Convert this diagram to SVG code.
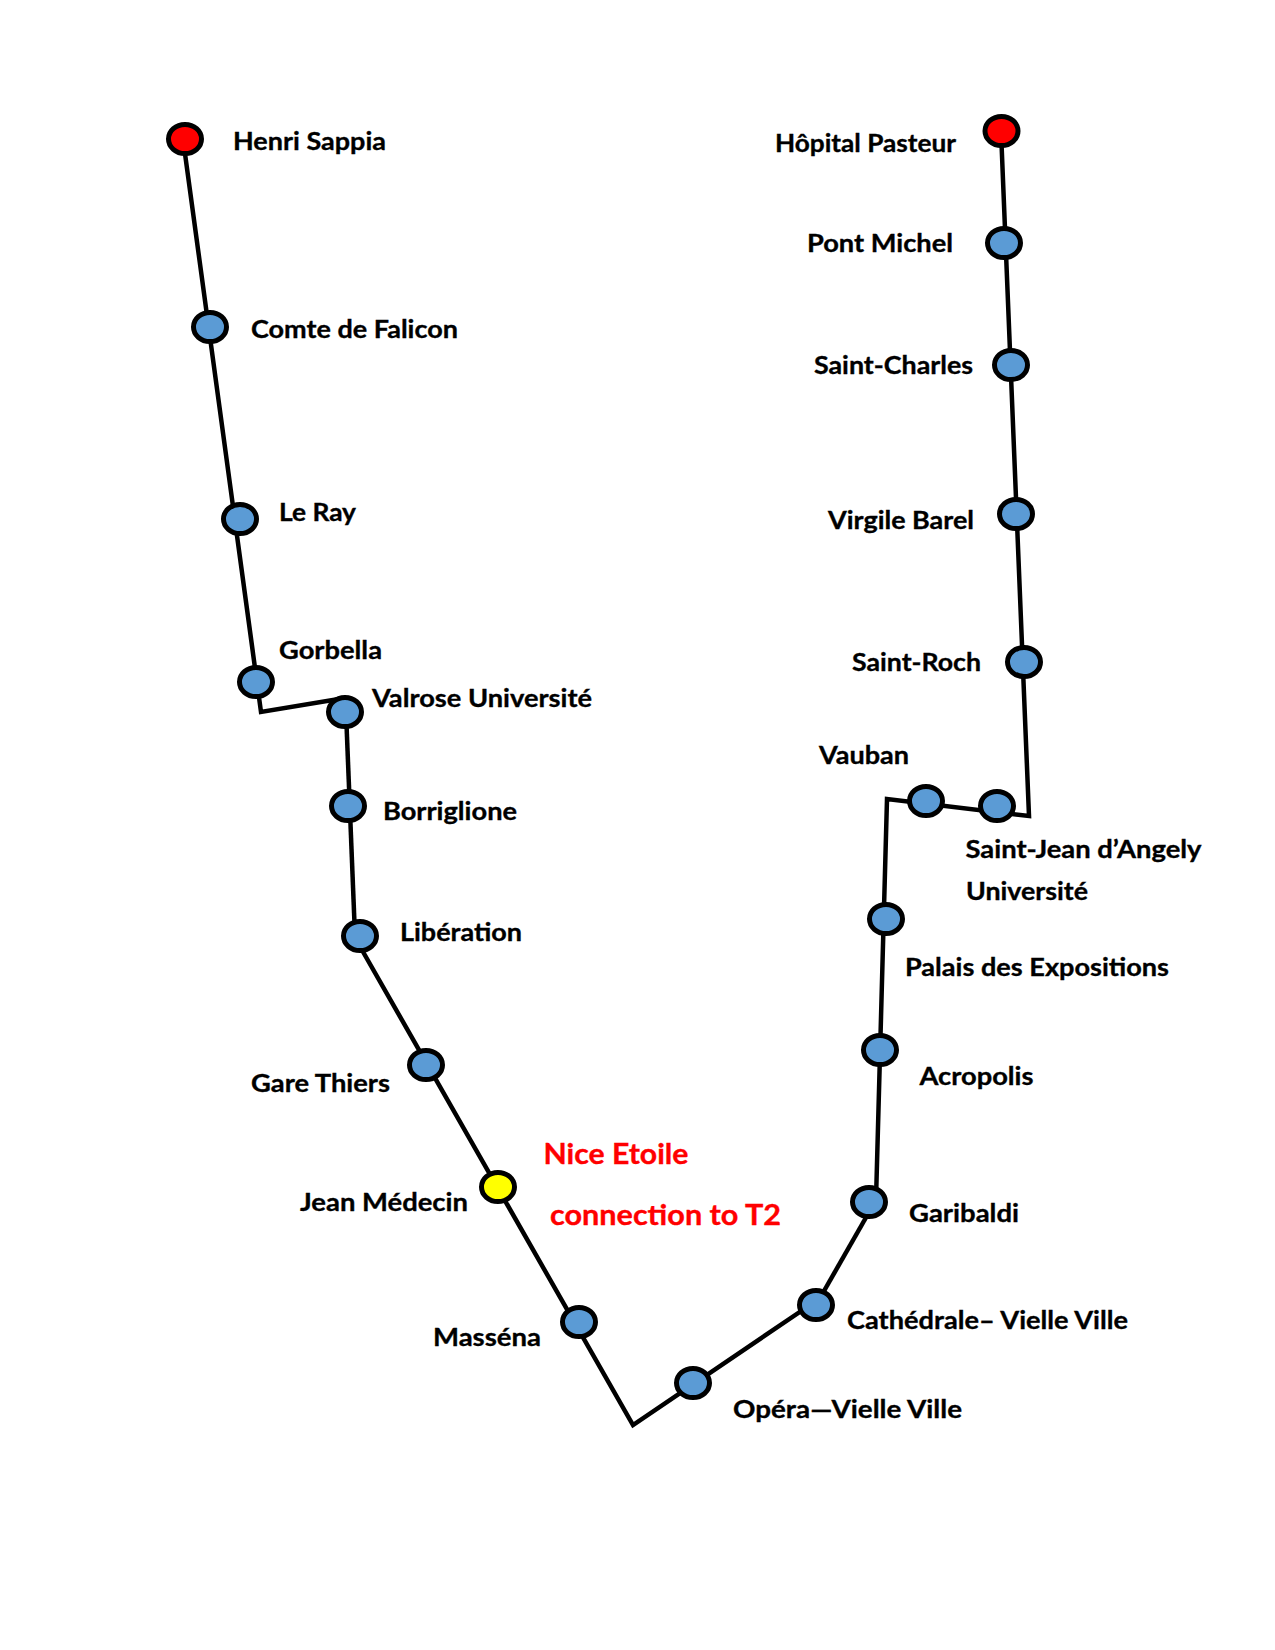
<svg xmlns="http://www.w3.org/2000/svg" width="1275" height="1650" viewBox="0 0 1275 1650">
<style>
.l{fill:none;stroke:#000;stroke-width:4.5;stroke-linejoin:miter}
.s{stroke:#000;stroke-width:5;fill:#5B9BD5}
.e{fill:#f00}
.c{fill:#ff0}
text{font-family:"Lato","Liberation Sans",sans-serif;font-weight:700;font-size:25px;fill:#000;stroke:#000;stroke-width:.35px}
text.r{font-size:28px;fill:#f00;stroke:#f00}
</style>
<rect width="1275" height="1650" fill="#fff"/>
<g id="connectors">
<polyline class="l" points="183,139 261,712 345,698"/>
<polyline class="l" points="346,712 355,936"/>
<polyline class="l" points="354,936 633,1425 816,1301"/>
<polyline class="l" points="816,1305 872,1207"/>
<polyline class="l" points="876,1200 887,799 1029,816 1001,131"/>
</g>
<g id="n1"><ellipse class="s e" cx="185" cy="139" rx="16.5" ry="14.5"/><text x="233" y="150" textLength="153" lengthAdjust="spacingAndGlyphs">Henri Sappia</text></g>
<g id="n2"><ellipse class="s" cx="210" cy="327" rx="16.5" ry="14.5"/><text x="251" y="338" textLength="207" lengthAdjust="spacingAndGlyphs">Comte de Falicon</text></g>
<g id="n3"><ellipse class="s" cx="240" cy="519" rx="16.5" ry="14.5"/><text x="279" y="521" textLength="77" lengthAdjust="spacingAndGlyphs">Le Ray</text></g>
<g id="n4"><ellipse class="s" cx="256" cy="682" rx="16.5" ry="14.5"/><text x="279" y="659" textLength="103" lengthAdjust="spacingAndGlyphs">Gorbella</text></g>
<g id="n5"><ellipse class="s" cx="345" cy="712" rx="16.5" ry="14.5"/><text x="372" y="707" textLength="220" lengthAdjust="spacingAndGlyphs">Valrose Université</text></g>
<g id="n6"><ellipse class="s" cx="348" cy="806" rx="16.5" ry="14.5"/><text x="383" y="820" textLength="134" lengthAdjust="spacingAndGlyphs">Borriglione</text></g>
<g id="n7"><ellipse class="s" cx="360" cy="936" rx="16.5" ry="14.5"/><text x="400" y="941" textLength="122" lengthAdjust="spacingAndGlyphs">Libération</text></g>
<g id="n8"><ellipse class="s" cx="426" cy="1065" rx="16.5" ry="14.5"/><text x="251" y="1092" textLength="139" lengthAdjust="spacingAndGlyphs">Gare Thiers</text></g>
<g id="n9"><ellipse class="s c" cx="498" cy="1187" rx="16.5" ry="14.5"/><text x="300" y="1211" textLength="168" lengthAdjust="spacingAndGlyphs">Jean Médecin</text><text class="r" x="543.5" y="1164" textLength="145" lengthAdjust="spacingAndGlyphs">Nice Etoile</text><text class="r" x="550" y="1225" textLength="231" lengthAdjust="spacingAndGlyphs">connection to T2</text></g>
<g id="n10"><ellipse class="s" cx="579" cy="1322" rx="16.5" ry="14.5"/><text x="433" y="1346" textLength="108" lengthAdjust="spacingAndGlyphs">Masséna</text></g>
<g id="n11"><ellipse class="s" cx="693" cy="1383" rx="16.5" ry="14.5"/><text x="733" y="1418" textLength="229" lengthAdjust="spacingAndGlyphs">Opéra—Vielle Ville</text></g>
<g id="n12"><ellipse class="s" cx="816" cy="1305" rx="16.5" ry="14.5"/><text x="847" y="1329" textLength="281" lengthAdjust="spacingAndGlyphs">Cathédrale– Vielle Ville</text></g>
<g id="n13"><ellipse class="s" cx="869" cy="1202" rx="16.5" ry="14.5"/><text x="909" y="1222" textLength="110" lengthAdjust="spacingAndGlyphs">Garibaldi</text></g>
<g id="n14"><ellipse class="s" cx="880" cy="1050" rx="16.5" ry="14.5"/><text x="919.5" y="1085" textLength="114" lengthAdjust="spacingAndGlyphs">Acropolis</text></g>
<g id="n15"><ellipse class="s" cx="886" cy="919" rx="16.5" ry="14.5"/><text x="905" y="976" textLength="264" lengthAdjust="spacingAndGlyphs">Palais des Expositions</text></g>
<g id="n16"><ellipse class="s" cx="926" cy="801" rx="16.5" ry="14.5"/><text x="819" y="764" textLength="90" lengthAdjust="spacingAndGlyphs">Vauban</text></g>
<g id="n17"><ellipse class="s" cx="997" cy="806" rx="16.5" ry="14.5"/><text x="965.5" y="858" textLength="236" lengthAdjust="spacingAndGlyphs">Saint-Jean d’Angely</text><text x="966" y="900" textLength="122" lengthAdjust="spacingAndGlyphs">Université</text></g>
<g id="n18"><ellipse class="s" cx="1024" cy="662" rx="16.5" ry="14.5"/><text x="852" y="671" textLength="129" lengthAdjust="spacingAndGlyphs">Saint-Roch</text></g>
<g id="n19"><ellipse class="s" cx="1016" cy="514" rx="16.5" ry="14.5"/><text x="828" y="529" textLength="146" lengthAdjust="spacingAndGlyphs">Virgile Barel</text></g>
<g id="n20"><ellipse class="s" cx="1011" cy="365" rx="16.5" ry="14.5"/><text x="814" y="374" textLength="159" lengthAdjust="spacingAndGlyphs">Saint-Charles</text></g>
<g id="n21"><ellipse class="s" cx="1004" cy="243" rx="16.5" ry="14.5"/><text x="807" y="252" textLength="146" lengthAdjust="spacingAndGlyphs">Pont Michel</text></g>
<g id="n22"><ellipse class="s e" cx="1001.5" cy="131" rx="16.5" ry="14.5"/><text x="775" y="152" textLength="181" lengthAdjust="spacingAndGlyphs">Hôpital Pasteur</text></g>
</svg>
